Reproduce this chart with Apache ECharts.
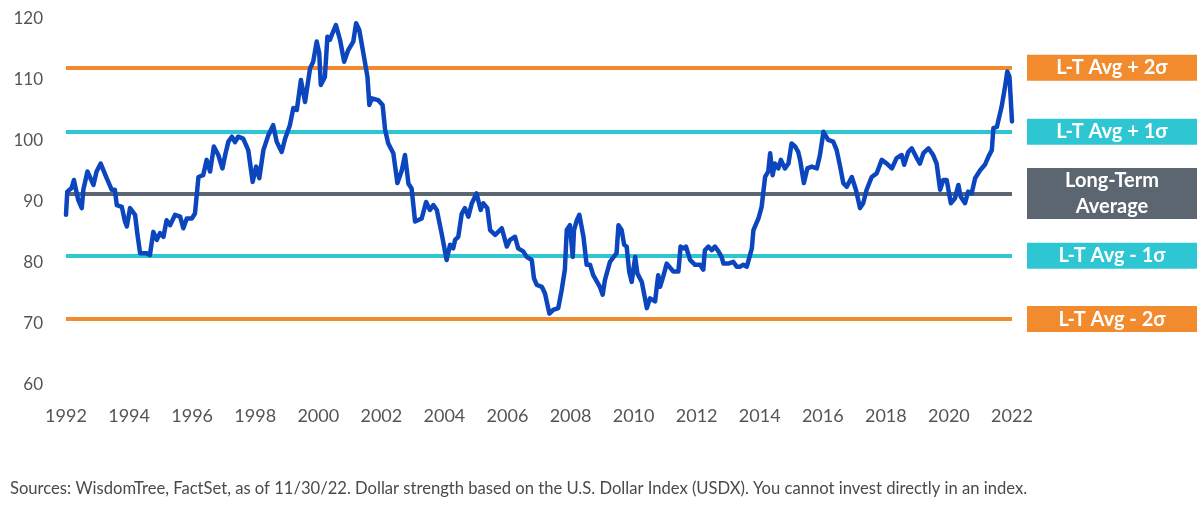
<!DOCTYPE html>
<html>
<head>
<meta charset="utf-8">
<script src="https://cdn.jsdelivr.net/npm/echarts@6/dist/echarts.min.js"></script>
<style>
html,body{margin:0;padding:0;background:#ffffff;}
#chart{width:1200px;height:512px;}
</style>
</head>
<body>
<div id="chart"></div>
<script>
// Position along the drawn time axis (years as labelled on the chart)
const years = [
1992.00,1992.04,1992.18,1992.25,1992.39,1992.50,1992.55,1992.68,1992.87,1992.97,
1993.10,1993.29,1993.45,1993.55,1993.61,1993.77,1993.87,1993.93,1994.03,1994.19,
1994.26,1994.35,1994.56,1994.66,1994.77,1994.88,1994.98,1995.09,1995.19,1995.30,
1995.46,1995.62,1995.72,1995.83,1995.99,1996.09,1996.20,1996.35,1996.46,1996.57,
1996.69,1996.83,1996.96,1997.06,1997.15,1997.26,1997.36,1997.46,1997.62,1997.78,
1997.92,1998.03,1998.13,1998.26,1998.42,1998.57,1998.68,1998.84,1998.95,1999.10,
1999.21,1999.32,1999.45,1999.58,1999.74,1999.84,1999.95,2000.03,2000.08,2000.21,
2000.29,2000.37,2000.43,2000.56,2000.69,2000.82,2000.95,2001.11,2001.20,2001.30,
2001.43,2001.56,2001.62,2001.70,2001.90,2002.04,2002.12,2002.22,2002.38,2002.51,
2002.65,2002.75,2002.86,2002.96,2003.07,2003.28,2003.42,2003.54,2003.65,2003.76,
2003.91,2004.07,2004.18,2004.28,2004.34,2004.44,2004.55,2004.65,2004.76,2004.87,
2005.02,2005.15,2005.23,2005.36,2005.45,2005.61,2005.82,2005.98,2006.08,2006.24,
2006.34,2006.50,2006.61,2006.77,2006.84,2006.93,2007.09,2007.19,2007.33,2007.45,
2007.61,2007.72,2007.82,2007.88,2007.98,2008.07,2008.11,2008.20,2008.28,2008.41,
2008.51,2008.62,2008.72,2008.93,2009.02,2009.09,2009.25,2009.46,2009.52,2009.62,
2009.70,2009.78,2009.86,2009.94,2010.05,2010.12,2010.26,2010.42,2010.52,2010.68,
2010.78,2010.84,2010.94,2011.05,2011.26,2011.42,2011.49,2011.58,2011.66,2011.79,
2011.95,2012.11,2012.21,2012.26,2012.37,2012.48,2012.58,2012.69,2012.79,2012.85,
2013.00,2013.16,2013.27,2013.37,2013.48,2013.59,2013.75,2013.80,2013.96,2014.06,
2014.17,2014.27,2014.33,2014.41,2014.48,2014.59,2014.67,2014.80,2014.91,2015.01,
2015.12,2015.22,2015.28,2015.40,2015.51,2015.65,2015.81,2015.91,2016.02,2016.17,
2016.33,2016.44,2016.55,2016.65,2016.76,2016.92,2017.05,2017.18,2017.28,2017.39,
2017.55,2017.71,2017.87,2018.03,2018.19,2018.34,2018.50,2018.58,2018.71,2018.82,
2018.98,2019.08,2019.19,2019.35,2019.50,2019.61,2019.72,2019.82,2019.93,2020.06,
2020.19,2020.30,2020.37,2020.51,2020.61,2020.72,2020.83,2020.99,2021.14,2021.25,
2021.36,2021.41,2021.52,2021.67,2021.78,2021.85,2021.92,2022.00
];
// U.S. Dollar Index values
const usdx = [
87.9,91.7,92.3,93.6,90.3,89.0,92.0,95.0,92.8,95.0,
96.3,93.9,92.0,92.0,89.5,89.2,86.8,86.0,89.0,87.9,
84.9,81.6,81.6,81.3,85.1,83.8,84.9,84.3,87.0,86.2,
87.9,87.6,85.7,87.3,87.3,88.1,94.1,94.4,96.9,95.0,
99.1,97.7,95.5,98.0,99.9,100.7,99.8,100.7,100.4,98.5,
93.3,95.8,93.9,98.5,101.0,102.6,99.9,98.2,100.4,102.6,
105.4,105.1,110.0,106.4,111.9,113.0,116.3,114.4,109.2,110.5,
117.1,116.6,117.4,119.0,116.6,113.0,114.9,116.3,119.3,118.2,
114.4,110.5,105.9,107.0,106.7,105.9,101.8,99.6,98.0,93.1,
95.2,97.7,93.0,92.2,86.8,87.3,90.0,88.7,89.5,88.7,
84.9,80.5,83.0,82.4,83.8,84.3,88.1,89.0,87.6,89.8,
91.4,88.7,89.8,89.0,85.4,84.6,85.7,82.7,83.8,84.3,
82.4,81.9,81.0,80.5,77.5,76.4,76.1,75.0,71.7,72.3,
72.6,75.6,78.9,85.4,86.2,81.0,85.4,87.0,87.9,84.3,
79.7,79.7,78.0,76.1,74.8,77.2,80.2,81.6,86.2,85.4,
83.0,82.7,78.6,76.9,81.0,78.3,76.9,72.6,74.2,73.7,
78.0,76.1,77.8,79.9,78.6,78.6,82.7,82.4,82.7,80.5,
79.7,79.7,78.9,82.1,82.7,82.1,82.7,81.9,81.0,79.9,
79.9,80.2,79.4,79.4,79.7,79.4,82.4,85.4,87.3,89.2,
94.1,95.0,98.0,94.4,96.3,95.5,96.9,95.5,96.3,99.6,
99.1,98.2,96.9,93.1,95.5,95.8,95.5,97.7,101.5,100.2,
99.9,98.5,95.8,93.1,92.5,94.1,92.0,89.0,89.8,92.0,
94.1,94.7,96.9,96.3,95.5,97.2,97.7,96.1,98.2,98.8,
97.2,96.3,98.0,98.8,97.7,96.3,92.0,93.6,93.6,89.8,
90.6,92.8,90.9,89.8,91.7,91.4,93.9,95.2,96.1,97.4,
98.5,102.1,102.3,105.6,108.9,111.4,110.5,103.2
];
// Reference levels (long-term average and +/- 1 and 2 standard deviations)
const refNames = ['L-T Avg + 2σ', 'L-T Avg + 1σ', 'Long-Term\nAverage', 'L-T Avg - 1σ', 'L-T Avg - 2σ'];
const refValues = [112.0, 101.5, 91.4, 81.2, 70.8];
// Axis ticks
const yTickMin = 60, yTickMax = 120, yTickStep = 10;
const xTickMin = 1992, xTickMax = 2022, xTickStep = 2;
const sourceNote = 'Sources: WisdomTree, FactSet, as of 11/30/22. Dollar strength based on the U.S. Dollar Index (USDX). You cannot invest directly in an index.';

const refColors = ['#F28A2E', '#2DC6D2', '#5C6670', '#2DC6D2', '#F28A2E'];
const FONT = 'Lato, "Open Sans", sans-serif';

const chart = echarts.init(document.getElementById('chart'), null, {renderer: 'canvas'});

const markData = refValues.map((v, i) => {
  const lines = refNames[i].split('\n');
  const lh = lines.length > 1 ? 25.5 : 26;
  return {
    yAxis: v,
    lineStyle: {color: refColors[i], width: 4, type: 'solid'},
    label: {
      show: true,
      position: 'end',
      distance: 15,
      backgroundColor: refColors[i],
      padding: 0,
      formatter: lines.map(t => '{t|' + t + '}').join('\n'),
      rich: {
        t: {
          width: 170,
          align: 'center',
          lineHeight: lh,
          height: lh,
          color: '#ffffff',
          fontFamily: FONT,
          fontWeight: 'bold',
          fontSize: 20
        }
      }
    }
  };
});

const option = {
  backgroundColor: '#ffffff',
  animation: false,
  grid: {left: 66, right: 188, top: 19, bottom: 127, containLabel: false, outerBoundsMode: 'none'},
  xAxis: {
    type: 'value',
    min: xTickMin,
    max: xTickMax,
    interval: xTickStep,
    axisLine: {show: false},
    axisTick: {show: false},
    splitLine: {show: false},
    axisLabel: {
      color: '#555555',
      fontFamily: FONT,
      fontSize: 18,
      margin: 22,
      formatter: v => String(v)
    }
  },
  yAxis: {
    type: 'value',
    min: yTickMin,
    max: yTickMax,
    interval: yTickStep,
    axisLine: {show: false},
    axisTick: {show: false},
    splitLine: {show: false},
    axisLabel: {
      color: '#555555',
      fontFamily: FONT,
      fontSize: 17,
      margin: 23
    }
  },
  series: [
    {
      type: 'line',
      name: 'refs',
      data: [],
      silent: true,
      z: 1,
      markLine: {
        silent: true,
        symbol: ['none', 'none'],
        animation: false,
        data: markData
      }
    },
    {
      type: 'line',
      name: 'USDX',
      z: 5,
      data: years.map((y, i) => [y, usdx[i]]),
      showSymbol: false,
      symbol: 'none',
      lineStyle: {color: '#0C46BE', width: 4.5, join: 'round', cap: 'round'},
      silent: true
    }
  ],
  graphic: [
    {
      type: 'text',
      left: 10,
      top: 480,
      style: {
        text: sourceNote,
        fill: '#4a4a4a',
        font: '16.6px ' + FONT
      }
    }
  ]
};
chart.setOption(option);
</script>
</body>
</html>
